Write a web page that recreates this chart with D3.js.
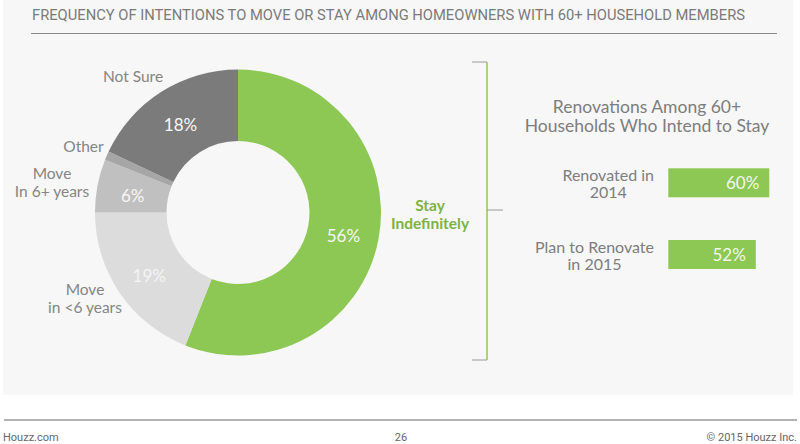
<!DOCTYPE html>
<html>
<head>
<meta charset="utf-8">
<script src="https://cdn.jsdelivr.net/npm/d3@7"></script>
<style>
  body { margin: 0; background: #fff; }
  svg { display: block; }
  text { font-family: Lato, "Open Sans", sans-serif; }
</style>
</head>
<body>
<div id="chart"></div>
<script>
// donut data
var segments = ["Stay Indefinitely", "Move in <6 years", "Move In 6+ years", "Other", "Not Sure"];
var shares = [56, 19, 6, 1, 18];
var shareLabels = ["56%", "19%", "6%", "", "18%"];
var segColors = ["#8cc853", "#dcdcdc", "#c0c0c0", "#a6a6a6", "#7b7b7b"];

// renovation bars
var renoCats = [["Renovated in", "2014"], ["Plan to Renovate", "in 2015"]];
var renoValues = [60, 52];
var renoTitle = ["Renovations Among 60+", "Households Who Intend to Stay"];

var title = "FREQUENCY OF INTENTIONS TO MOVE OR STAY AMONG HOMEOWNERS WITH 60+ HOUSEHOLD MEMBERS";
var footer = ["Houzz.com", "26", "\u00a9 2015 Houzz Inc."];

var w = 800, h = 444;
var svg = d3.select("#chart").append("svg").attr("width", w).attr("height", h);

// panel
svg.append("rect").attr("x", 3).attr("y", 0).attr("width", 790).attr("height", 395).attr("fill", "#f7f7f7");

svg.append("text")
  .attr("x", 32).attr("y", 20)
  .attr("textLength", 713).attr("lengthAdjust", "spacingAndGlyphs")
  .style("font-family", "Roboto, sans-serif")
  .style("font-size", "14px").attr("fill", "#7a7a7a")
  .text(title);
svg.append("line").attr("x1", 31).attr("x2", 777).attr("y1", 33.5).attr("y2", 33.5)
  .attr("stroke", "#8a8a8a").attr("stroke-width", 1.2);

// donut
var cx = 238, cy = 212.5, rOut = 143, rIn = 71.5;
var pie = d3.pie().sort(null).value(function(d) { return d; });
var arc = d3.arc().innerRadius(rIn).outerRadius(rOut);
var arcs = pie(shares);
var g = svg.append("g").attr("transform", "translate(" + cx + "," + cy + ")");

g.selectAll("path").data(arcs).enter().append("path")
  .attr("d", arc)
  .attr("fill", function(d, i) { return segColors[i]; });

g.selectAll("text.pct").data(arcs).enter().append("text")
  .attr("class", "pct")
  .attr("transform", function(d) { var c = arc.centroid(d); return "translate(" + c[0] + "," + (c[1] + 3) + ")"; })
  .attr("text-anchor", "middle").attr("dominant-baseline", "central")
  .style("font-size", "17px")
  .attr("fill", function(d, i) { return i == 1 ? "#f4f4f4" : "#f7f7f7"; })
  .text(function(d, i) { return shareLabels[i]; });

// outside labels (layout only: center x, first baseline, lines)
var labelPos = [
  {x: 430, y: 211, lines: ["Stay", "Indefinitely"], color: "#7cb342", bold: true},
  {x: 85, y: 295, lines: ["Move", "in <6 years"], color: "#858585"},
  {x: 52, y: 179, lines: ["Move", "In 6+ years"], color: "#858585"},
  {x: 83.5, y: 152, lines: ["Other"], color: "#858585"},
  {x: 133, y: 82, lines: ["Not Sure"], color: "#858585"}
];
labelPos.forEach(function(p) {
  var t = svg.append("text").attr("text-anchor", "middle")
    .style("font-size", "15.5px")
    .style("font-weight", p.bold ? "700" : "400")
    .attr("fill", p.color);
  p.lines.forEach(function(l, j) {
    t.append("tspan").attr("x", p.x).attr("y", p.y + j * 17.5).text(l);
  });
});

// bracket
var bx = 487;
svg.append("line").attr("x1", bx).attr("x2", bx).attr("y1", 62).attr("y2", 360)
  .attr("stroke", "#8cc853").attr("stroke-width", 1.5);
[[472, bx, 62], [472, bx, 360], [bx, 503, 210]].forEach(function(s) {
  svg.append("line").attr("x1", s[0]).attr("x2", s[1]).attr("y1", s[2]).attr("y2", s[2])
    .attr("stroke", "#9a9a9a").attr("stroke-width", 1);
});

// right title
renoTitle.forEach(function(l, i) {
  svg.append("text").attr("x", 647).attr("y", 113 + i * 19)
    .attr("text-anchor", "middle").style("font-size", "17.5px").attr("fill", "#7d7d7d")
    .text(l);
});

// bars
var x = d3.scaleLinear().domain([0, 100]).range([0, 168.3]);
var y = d3.scaleBand().domain(d3.range(renoValues.length)).range([168.3, 269]).paddingInner(0.596).paddingOuter(0);
var bx0 = 668.3;

var bars = svg.append("g");
bars.selectAll("rect").data(renoValues).enter().append("rect")
  .attr("x", bx0).attr("y", function(d, i) { return y(i); })
  .attr("width", function(d) { return x(d); })
  .attr("height", y.bandwidth())
  .attr("fill", "#8cc853");
bars.selectAll("text.val").data(renoValues).enter().append("text")
  .attr("class", "val")
  .attr("x", function(d) { return bx0 + x(d) - 10; })
  .attr("y", function(d, i) { return y(i) + y.bandwidth() / 2 + 6.5; })
  .attr("text-anchor", "end").style("font-size", "17px").attr("fill", "#f2f7ec")
  .text(function(d) { return d + "%"; });

// bar category labels: block right-aligned at 654, lines centered within block
renoCats.forEach(function(lines, i) {
  var t = svg.append("text").style("font-size", "16px").attr("fill", "#7d7d7d").attr("text-anchor", "middle");
  var spans = lines.map(function(l, j) {
    return t.append("tspan").attr("y", y(i) + 12.5 + j * 17.5).text(l);
  });
  var maxW = d3.max(spans, function(s) { return s.node().getComputedTextLength(); });
  spans.forEach(function(s) { s.attr("x", 654 - maxW / 2); });
});

// footer
svg.append("line").attr("x1", 4).attr("x2", 797).attr("y1", 420).attr("y2", 420)
  .attr("stroke", "#999").attr("stroke-width", 1.5);
var ft = [[3, "start"], [401, "middle"], [797, "end"]];
footer.forEach(function(s, i) {
  svg.append("text").attr("x", ft[i][0]).attr("y", 441)
    .attr("text-anchor", ft[i][1])
    .style("font-family", "Roboto, sans-serif")
    .style("font-size", "11px").attr("fill", "#666")
    .text(s);
});
</script>
</body>
</html>
